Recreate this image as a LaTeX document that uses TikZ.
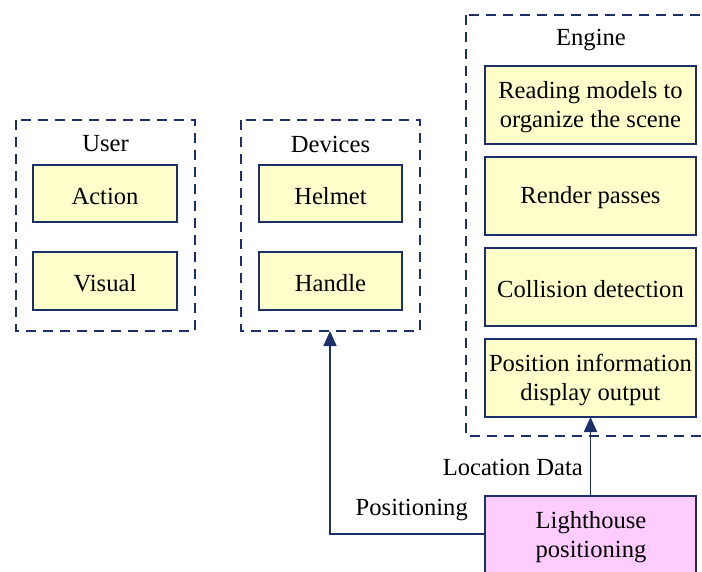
\documentclass[tikz,border=0pt]{standalone}
\usepackage{fontspec}
\setmainfont{Liberation Serif}
\usetikzlibrary{arrows.meta}
\definecolor{navy}{HTML}{1B2F6B}
\definecolor{boxyellow}{HTML}{FFFFCC}
\definecolor{boxpink}{HTML}{FFCCFF}
\tikzset{
  grp/.style={draw=navy, line width=1.9pt, dash pattern=on 10pt off 7pt},
  item/.style={draw=navy, line width=1.9pt, fill=boxyellow},
  pinkbox/.style={draw=navy, line width=1.9pt, fill=boxpink},
  txt/.style={font=\fontsize{24.6}{29}\selectfont, align=center, inner sep=0pt},
  conn/.style={draw=navy, line width=1.8pt, -{Triangle[length=15pt,width=13pt]}},
}
\begin{document}
\begin{tikzpicture}[x=1pt,y=-1pt]
\clip (0,0) rectangle (702,571);
\fill[white] (0,0) rectangle (702,571);
% User group
\draw[grp] (16,120) rectangle (195,331);
\node[txt] (userlbl) at (105.5,144) {User};
\draw[item] (33,165) rectangle (177,222);
\node[txt] (action) at (105,196) {Action};
\draw[item] (33,252) rectangle (177,310);
\node[txt] (visual) at (105,283) {Visual};
% Devices group
\draw[grp] (241,120) rectangle (420,331);
\coordinate (devbottom) at (330,331);
\node[txt] (devlbl) at (330.5,144) {Devices};
\draw[item] (259,165) rectangle (402,222);
\node[txt] (helmet) at (330.5,196) {Helmet};
\draw[item] (259,252) rectangle (402,310);
\node[txt] (handle) at (330.5,283) {Handle};
% Engine group
\draw[grp] (466,15) rectangle (740,436);
\node[txt] (englbl) at (591,40) {Engine};
\draw[item] (485,66) rectangle (696,144);
\node[txt] (reading) at (590.5,107) {Reading models to\\organize the scene};
\draw[item] (485,157) rectangle (696,235);
\node[txt] (render) at (590.5,198) {Render passes};
\draw[item] (485,248) rectangle (696,326);
\node[txt] (collision) at (590.5,289) {Collision detection};
\draw[item] (485,339) rectangle (696,417);
\node[txt] (posinfo) at (590.5,380) {Position information\\display output};
\coordinate (posbottom) at (590.5,417);
% Lighthouse
\draw[pinkbox] (485,496) rectangle (696,600);
\node[txt] (light) at (591,537) {Lighthouse\\positioning};
\coordinate (lighttop) at (590.5,496);
\coordinate (lightleft) at (485,534);
% Connectors
\draw[conn] (lighttop) -- (posbottom);
\node[txt, anchor=east] (locdata) at (583,467) {Location Data};
\draw[conn] (lightleft) -| (devbottom);
\node[txt, anchor=east] (posing) at (468,510) {Positioning};
\end{tikzpicture}
\end{document}
